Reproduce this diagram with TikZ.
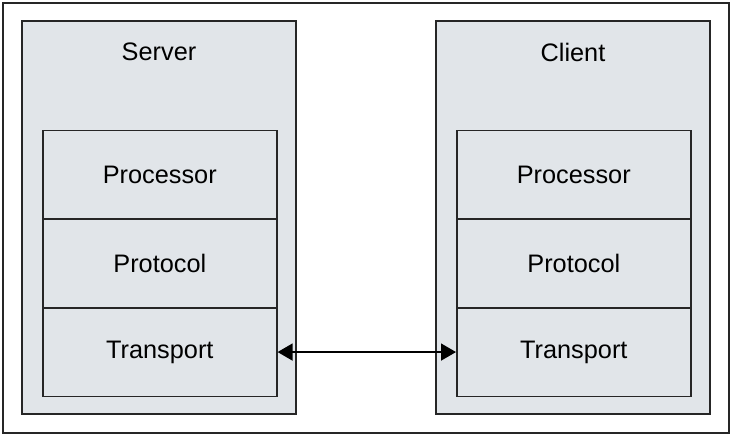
\documentclass[tikz,border=0pt]{standalone}
\usepackage{fontspec}
\setmainfont{Liberation Sans}
\usetikzlibrary{arrows.meta}
\definecolor{panel}{HTML}{E1E5E9}
\begin{document}
\begin{tikzpicture}[x=1pt,y=-1pt,
  outer/.style={draw=black!85,line width=2pt},
  side/.style={draw=black!85,fill=panel,line width=2pt},
  layer/.style={draw=black!85,line width=1.6pt,minimum width=234pt,minimum height=88.7pt,inner sep=0pt,font=\fontsize{25.3}{30}\selectfont,anchor=north west},
  ttl/.style={font=\fontsize{25.3}{30}\selectfont}]
\useasboundingbox (0,0) rectangle (732,437);
\draw[outer] (3,3) rectangle (729,433);
\draw[side] (22,21) rectangle (296,414);
\draw[side] (436,21) rectangle (710,414);
\node[ttl] (st) at (159,52) {Server};
\node[ttl] (ct) at (573,52) {Client};
\node[layer] (sp) at (42,129.5) {Processor};
\node[layer] (spr) at (42,218.2) {Protocol};
\node[layer] (str) at (42,306.9) {Transport};
\node[layer] (cp) at (456,129.5) {Processor};
\node[layer] (cpr) at (456,218.2) {Protocol};
\node[layer] (ctr) at (456,306.9) {Transport};
\draw[line width=1.6pt,{Triangle[length=15pt,width=17pt]}-{Triangle[length=15pt,width=17pt]}] (str.east) -- (ctr.west);
\end{tikzpicture}
\end{document}
